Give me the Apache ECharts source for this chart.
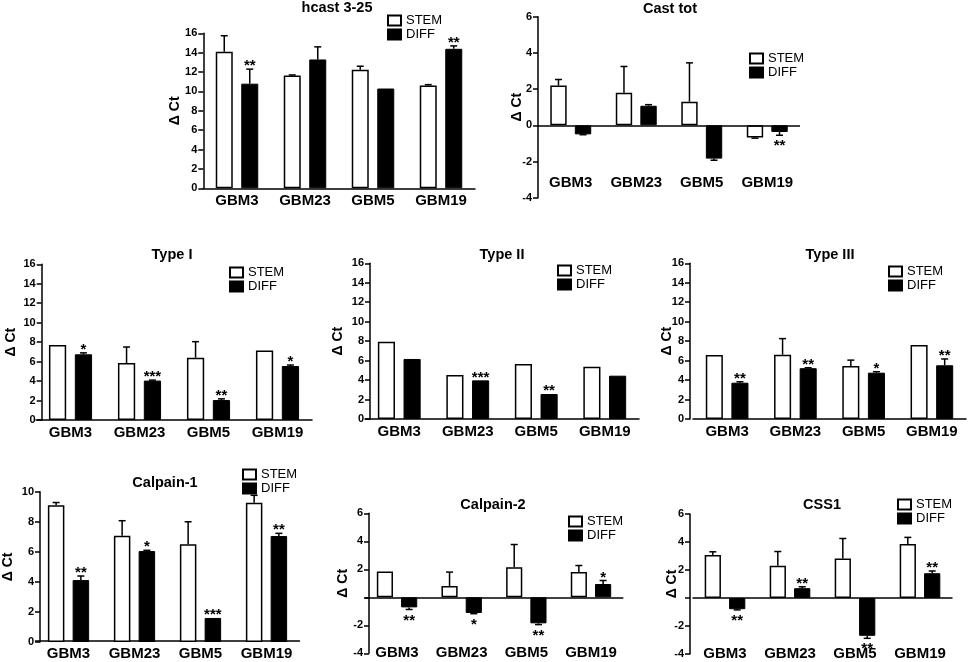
<!DOCTYPE html>
<html>
<head>
<meta charset="utf-8">
<title>calpain panels</title>
<style>
  html, body { margin: 0; padding: 0; background: #fff; }
  #main { width: 969px; height: 662px; }
</style>
<script src="https://cdn.jsdelivr.net/npm/echarts@6/dist/echarts.min.js"></script>
</head>
<body>
<div id="main"></div>
<script>
// ---- data ----
var categories = ["GBM3", "GBM23", "GBM5", "GBM19"];

var hcastStem = [14.1, 11.65, 12.25, 10.6];
var hcastStemErr = [1.65, 0.05, 0.35, 0.1];
var hcastDiff = [10.8, 13.3, 10.3, 14.4];
var hcastDiffErr = [1.5, 1.3, 0, 0.3];
var hcastSig = ["**", "", "", "**"];

var castStem = [2.2, 1.8, 1.3, -0.68];
var castStemErr = [0.33, 1.45, 2.15, 0.03];
var castDiff = [-0.5, 1.08, -1.84, -0.37];
var castDiffErr = [0.02, 0.06, 0.09, 0.18];
var castSig = ["", "", "", "**"];

var type1Stem = [7.7, 5.85, 6.4, 7.15];
var type1StemErr = [0, 1.65, 1.65, 0];
var type1Diff = [6.75, 4.05, 2.05, 5.55];
var type1DiffErr = [0.15, 0.05, 0.12, 0.1];
var type1Sig = ["*", "***", "**", "*"];

var type2Stem = [7.95, 4.52, 5.65, 5.38];
var type2StemErr = [0, 0, 0, 0];
var type2Diff = [6.17, 3.97, 2.57, 4.45];
var type2DiffErr = [0, 0, 0, 0];
var type2Sig = ["", "***", "**", ""];

var type3Stem = [6.58, 6.61, 5.45, 7.6];
var type3StemErr = [0, 1.65, 0.6, 0];
var type3Diff = [3.73, 5.22, 4.76, 5.52];
var type3DiffErr = [0.1, 0.05, 0.1, 0.65];
var type3Sig = ["**", "**", "*", "**"];

var cal1Stem = [9.1, 7.07, 6.5, 9.26];
var cal1StemErr = [0.18, 1.0, 1.5, 0.5];
var cal1Diff = [4.12, 6.05, 1.6, 7.05];
var cal1DiffErr = [0.27, 0.05, 0, 0.18];
var cal1Sig = ["**", "*", "***", "**"];

var cal2Stem = [1.85, 0.8, 2.15, 1.8];
var cal2StemErr = [0, 1.0, 1.62, 0.47];
var cal2Diff = [-0.72, -1.12, -1.86, 0.95];
var cal2DiffErr = [0.15, 0.05, 0.09, 0.25];
var cal2Sig = ["**", "*", "**", "*"];

var css1Stem = [3.07, 2.3, 2.82, 3.85];
var css1StemErr = [0.23, 1.02, 1.43, 0.48];
var css1Diff = [-0.8, 0.7, -2.7, 1.77];
var css1DiffErr = [0.05, 0.1, 0.18, 0.16];
var css1Sig = ["**", "**", "**", "**"];

// ---- panel layout (pixels) ----
var panels = [
  { title: "hcast 3-25", stem: hcastStem, stemErr: hcastStemErr, diff: hcastDiff, diffErr: hcastDiffErr, sig: hcastSig,
    min: 0, max: 16, left: 203, right: 494, top: 33.3, bottom: 473.7, axisX: 203.3, nameGap: 21, xOffset: 0,
    titleX: 337, titleY: 0, legX: 387, legY: 14 },
  { title: "Cast tot", stem: castStem, stemErr: castStemErr, diff: castDiff, diffErr: castDiffErr, sig: castSig,
    min: -4, max: 6, left: 538, right: 169, top: 16.7, bottom: 464.3, axisX: 538, nameGap: 14, xOffset: -27,
    titleX: 670, titleY: 1, legX: 749, legY: 52 },
  { title: "Type I", stem: type1Stem, stemErr: type1StemErr, diff: type1Diff, diffErr: type1DiffErr, sig: type1Sig,
    min: 0, max: 16, left: 36, right: 657, top: 264.3, bottom: 242, axisX: 41.7, nameGap: 24, xOffset: 0,
    titleX: 172, titleY: 247, legX: 229, legY: 266 },
  { title: "Type II", stem: type2Stem, stemErr: type2StemErr, diff: type2Diff, diffErr: type2DiffErr, sig: type2Sig,
    min: 0, max: 16, left: 365, right: 330, top: 263.3, bottom: 243, axisX: 370, nameGap: 25, xOffset: 0,
    titleX: 502, titleY: 247, legX: 557, legY: 264 },
  { title: "Type III", stem: type3Stem, stemErr: type3StemErr, diff: type3Diff, diffErr: type3DiffErr, sig: type3Sig,
    min: 0, max: 16, left: 693, right: 3, top: 263.3, bottom: 243, axisX: 690, nameGap: 16, xOffset: 0,
    titleX: 830, titleY: 247, legX: 888, legY: 265 },
  { title: "Calpain-1", stem: cal1Stem, stemErr: cal1StemErr, diff: cal1Diff, diffErr: cal1DiffErr, sig: cal1Sig,
    min: 0, max: 10, left: 35.5, right: 669.5, top: 491.7, bottom: 20, axisX: 40, nameGap: 25, xOffset: -1,
    titleX: 165, titleY: 475, legX: 242, legY: 468 },
  { title: "Calpain-2", stem: cal2Stem, stemErr: cal2StemErr, diff: cal2Diff, diffErr: cal2DiffErr, sig: cal2Sig,
    min: -4, max: 6, left: 364.7, right: 345.7, top: 513.3, bottom: 8.7, axisX: 369, nameGap: 19, xOffset: -13,
    titleX: 493, titleY: 497, legX: 568, legY: 515, hideZero: true },
  { title: "CSS1", stem: css1Stem, stemErr: css1StemErr, diff: css1Diff, diffErr: css1DiffErr, sig: css1Sig,
    min: -4, max: 6, left: 692.5, right: 16.5, top: 514, bottom: 8, axisX: 690, nameGap: 10.5, xOffset: -13,
    titleX: 822, titleY: 497, legX: 897, legY: 498, hideZero: true }
];

var FONT = "Liberation Sans, Arial, sans-serif";
var BAR_SHIFT = 0.1875; // bar centre offset, as share of category width

function makeErr(side, err, sig) {
  return function (params, api) {
    var i = api.value(0), v = api.value(1);
    var e = err[params.dataIndex];
    var band = api.size([1, 0])[0];
    var p0 = api.coord([i, v]);
    var x = p0[0] + side * band * BAR_SHIFT;
    var dir = v < 0 ? -1 : 1;
    var y1 = api.coord([i, v + dir * e])[1];
    var kids = [];
    var st = { stroke: "#000", lineWidth: 1.5 };
    if (e > 0) {
      kids.push({ type: "line", shape: { x1: x, y1: p0[1], x2: x, y2: y1 }, style: st });
      kids.push({ type: "line", shape: { x1: x - 3.5, y1: y1, x2: x + 3.5, y2: y1 }, style: st });
    }
    var s = sig ? sig[params.dataIndex] : "";
    if (s) {
      kids.push({
        type: "text",
        style: {
          text: s, x: x, y: dir > 0 ? y1 - 3 : y1 + 11,
          align: "center", verticalAlign: "middle",
          fontSize: 15, fontWeight: "bold", fontFamily: FONT, fill: "#000"
        }
      });
    }
    return { type: "group", children: kids };
  };
}

var option = {
  animation: false,
  backgroundColor: "#fff",
  title: [], legend: [], grid: [], xAxis: [], yAxis: [], series: []
};

panels.forEach(function (p, k) {
  var hasNeg = p.min < 0;
  option.title.push({
    text: p.title, left: p.titleX, top: p.titleY, textAlign: "center", padding: 0,
    textStyle: { fontFamily: FONT, fontSize: 14.5, fontWeight: "bold", color: "#000" }
  });
  option.legend.push({
    data: ["STEM", "DIFF"], orient: "vertical", left: p.legX, top: p.legY, padding: 0,
    itemWidth: 13, itemHeight: 10, itemGap: 1, icon: "rect", selectedMode: false,
    textStyle: { fontFamily: FONT, fontSize: 13, color: "#000", lineHeight: 13 }
  });
  option.grid.push({ left: p.left, right: p.right, top: p.top, bottom: p.bottom, containLabel: false });
  // category labels sit at the bottom of each panel; zero line drawn separately when axis crosses below 0
  option.xAxis.push({
    type: "category", gridIndex: k, data: categories, position: "bottom", offset: p.xOffset,
    axisLine: { show: !hasNeg, onZero: false, lineStyle: { color: "#000", width: 1.5 } },
    axisTick: { show: false },
    axisLabel: { margin: 5, color: "#000", fontFamily: FONT, fontSize: 15, fontWeight: "bold", interval: 0 }
  });
  option.yAxis.push({
    type: "value", gridIndex: k, min: p.min, max: p.max, interval: 2,
    offset: p.left - p.axisX,
    name: "\u0394 Ct", nameLocation: "middle", nameRotate: 90, nameGap: p.nameGap,
    nameMoveOverlap: false,
    nameTextStyle: { fontFamily: FONT, fontSize: 14, fontWeight: "bold", color: "#000" },
    axisLine: { show: true, lineStyle: { color: "#000", width: 1.5 } },
    axisTick: { show: true, length: 5, lineStyle: { color: "#000", width: 1.5 } },
    axisLabel: {
      margin: 6, color: "#000", fontFamily: FONT, fontSize: 11, fontWeight: "bold",
      formatter: function (v) { return p.hideZero && v === 0 ? "" : String(v); }
    },
    splitLine: { show: false }
  });
  var stemSeries = {
    type: "bar", name: "STEM", xAxisIndex: k, yAxisIndex: k, data: p.stem,
    barWidth: "25%", barGap: "50%",
    itemStyle: { color: "#fff", borderColor: "#000", borderWidth: 1.5 }
  };
  if (hasNeg) {
    stemSeries.markLine = {
      silent: true, symbol: "none", label: { show: false }, animation: false,
      lineStyle: { color: "#000", width: 1.5, type: "solid" },
      data: [{ yAxis: 0 }]
    };
  }
  option.series.push(stemSeries);
  option.series.push({
    type: "bar", name: "DIFF", xAxisIndex: k, yAxisIndex: k, data: p.diff,
    barWidth: "25%", barGap: "50%",
    itemStyle: { color: "#000", borderColor: "#000", borderWidth: 1 }
  });
  option.series.push({
    type: "custom", name: "errS" + k, xAxisIndex: k, yAxisIndex: k, z: 5,
    renderItem: makeErr(-1, p.stemErr, null),
    data: p.stem.map(function (v, i) { return [i, v]; })
  });
  option.series.push({
    type: "custom", name: "errD" + k, xAxisIndex: k, yAxisIndex: k, z: 5,
    renderItem: makeErr(1, p.diffErr, p.sig),
    data: p.diff.map(function (v, i) { return [i, v]; })
  });
});

var chart = echarts.init(document.getElementById("main"));
chart.setOption(option);
</script>
</body>
</html>
